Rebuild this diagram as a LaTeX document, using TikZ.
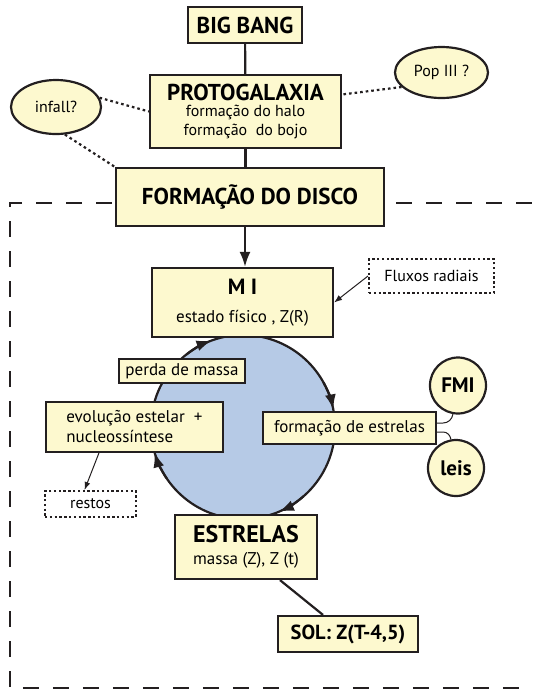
\documentclass[tikz,border=0pt]{standalone}
\usepackage{fontspec}
\setmainfont{PT Sans}
\usetikzlibrary{arrows.meta,shapes.geometric}
\definecolor{boxyellow}{HTML}{FDF9CF}
\definecolor{cycleblue}{HTML}{B6CAE6}
\definecolor{linedark}{HTML}{231F20}
\tikzset{
  >={Latex[length=7.5pt,width=5.5pt]},
  line/.style={draw=linedark, line width=1.1pt},
  arrowline/.style={draw=linedark, ->, line width=1.1pt},
  thinline/.style={draw=linedark, line width=0.5pt},
  thinarrow/.style={draw=linedark, line width=0.5pt, -{Latex[length=4pt,width=3pt]}},
  dotline/.style={draw=linedark, line width=1.1pt, dash pattern=on 1.3pt off 1.5pt},
  frame/.style={draw=linedark, line width=1pt, dash pattern=on 8pt off 7pt},
  box/.style={
    draw=linedark,
    fill=boxyellow,
    line width=1.1pt,
    align=center,
    inner sep=2pt,
    font=\fontsize{8.5}{10}\selectfont
  },
  dotbox/.style={
    draw=linedark,
    line width=1pt,
    dash pattern=on 1.2pt off 1.2pt,
    align=center,
    inner sep=2pt,
    font=\fontsize{8}{10}\selectfont
  },
  bubble/.style={box, ellipse, font=\fontsize{8}{10}\selectfont},
  roundbox/.style={box, circle, minimum size=28pt, inner sep=0pt, font=\fontsize{10.5}{12}\selectfont\bfseries}
}

\begin{document}
\begin{tikzpicture}[x=0.5pt,y=-0.5pt]
  \path[use as bounding box] (0,0) rectangle (532,693);

  \draw[frame] (532,203) -- (10,203) -- (10,688) -- (532,688);

  % cycle
  \node[circle, draw=linedark, fill=cycleblue, line width=1.1pt, minimum size=92pt,
    inner sep=0pt, outer sep=0pt] (ciclo) at (243,427) {};
  \draw[arrowline] (ciclo.128) arc[start angle=128, end angle=110, radius=46pt];
  \draw[arrowline] (ciclo.29) arc[start angle=29, end angle=11, radius=46pt];
  \draw[arrowline] (ciclo.-49) arc[start angle=-49, end angle=-67, radius=46pt];
  \draw[arrowline] (ciclo.214) arc[start angle=214, end angle=196, radius=46pt];

  \node[box, minimum width=57pt, minimum height=18pt, font=\fontsize{11.5}{12}\selectfont\bfseries]
    (bigbang) at (245,25) {BIG BANG};
  \node[box, minimum width=95.5pt, minimum height=36.5pt, font=\fontsize{8}{9.5}\selectfont] (proto) at (245.5,111.5)
    {{\fontsize{11.5}{11}\selectfont\bfseries PROTOGALAXIA}\\[-1.5pt]formação do halo\\formação\ \ do bojo};
  \node[box, minimum width=134pt, minimum height=29pt, font=\fontsize{11.5}{12}\selectfont\bfseries]
    (disco) at (250,197) {FORMAÇÃO DO DISCO};

  \node[bubble, minimum width=45pt, minimum height=27pt] (infall) at (56,107) {infall?};
  \node[bubble, minimum width=46.5pt, minimum height=25.5pt] (popiii) at (441.5,72.5) {Pop III ?};

  \node[box, minimum width=90.5pt, minimum height=34.5pt] (mi) at (242.5,302.5)
    {{\fontsize{11}{12}\selectfont\bfseries M I}\\[4pt]estado físico , Z(R)};
  \node[dotbox, minimum width=62.5pt, minimum height=17pt] (fluxos) at (431.5,276) {Fluxos radiais};

  \node[box, minimum width=63pt, minimum height=12pt, inner sep=1pt] (perda) at (182,371) {perda de massa};
  \node[box, minimum width=88.5pt, minimum height=25pt, align=left] (evol) at (134.5,427)
    {evolução estelar\ \ +\\nucleossíntese};
  \node[box, minimum width=86.5pt, minimum height=16pt] (formest) at (349.5,428) {formação de estrelas};
  \node[roundbox] (fmi) at (458,385.5) {FMI};
  \node[roundbox] (leis) at (456,468) {leis};
  \node[dotbox, minimum width=45.5pt, minimum height=13pt] (restos) at (90.5,504) {restos};

  \node[box, minimum width=71pt, minimum height=32pt] (estrelas) at (246,547)
    {{\fontsize{12}{12}\selectfont\bfseries ESTRELAS}\\[1pt]massa (Z), Z (t)};
  \node[box, minimum width=70pt, minimum height=18pt, font=\fontsize{10.2}{12}\selectfont\bfseries]
    (sol) at (348,634) {SOL: Z(T-4,5)};

  \draw[line] (bigbang) -- (proto);
  \draw[line] (proto.south) -- (proto.south |- disco.north);
  \draw[arrowline] (disco.south -| bigbang) -- (mi.north -| bigbang);

  \draw[dotline] (infall.12) -- (proto.west);
  \draw[dotline] (popiii.200) -- (proto.10);
  \draw[dotline] (infall.-72) -- (disco.north west);

  \draw[thinarrow] (fluxos.west) -- (mi.east);
  \draw[thinarrow] ([xshift=27pt]evol.south west) -- ([xshift=-3pt]restos.north);
  \draw[thinline] ([yshift=2.5pt]formest.east) -- ++(6,0) to[out=0,in=-100] (fmi.-100);
  \draw[thinline] ([yshift=-2pt]formest.east) -- ++(6,0) to[out=0,in=100] (leis.100);

  \draw[line] ([xshift=17pt]estrelas.south) -- ([xshift=-12.5pt]sol.north);
\end{tikzpicture}
\end{document}
